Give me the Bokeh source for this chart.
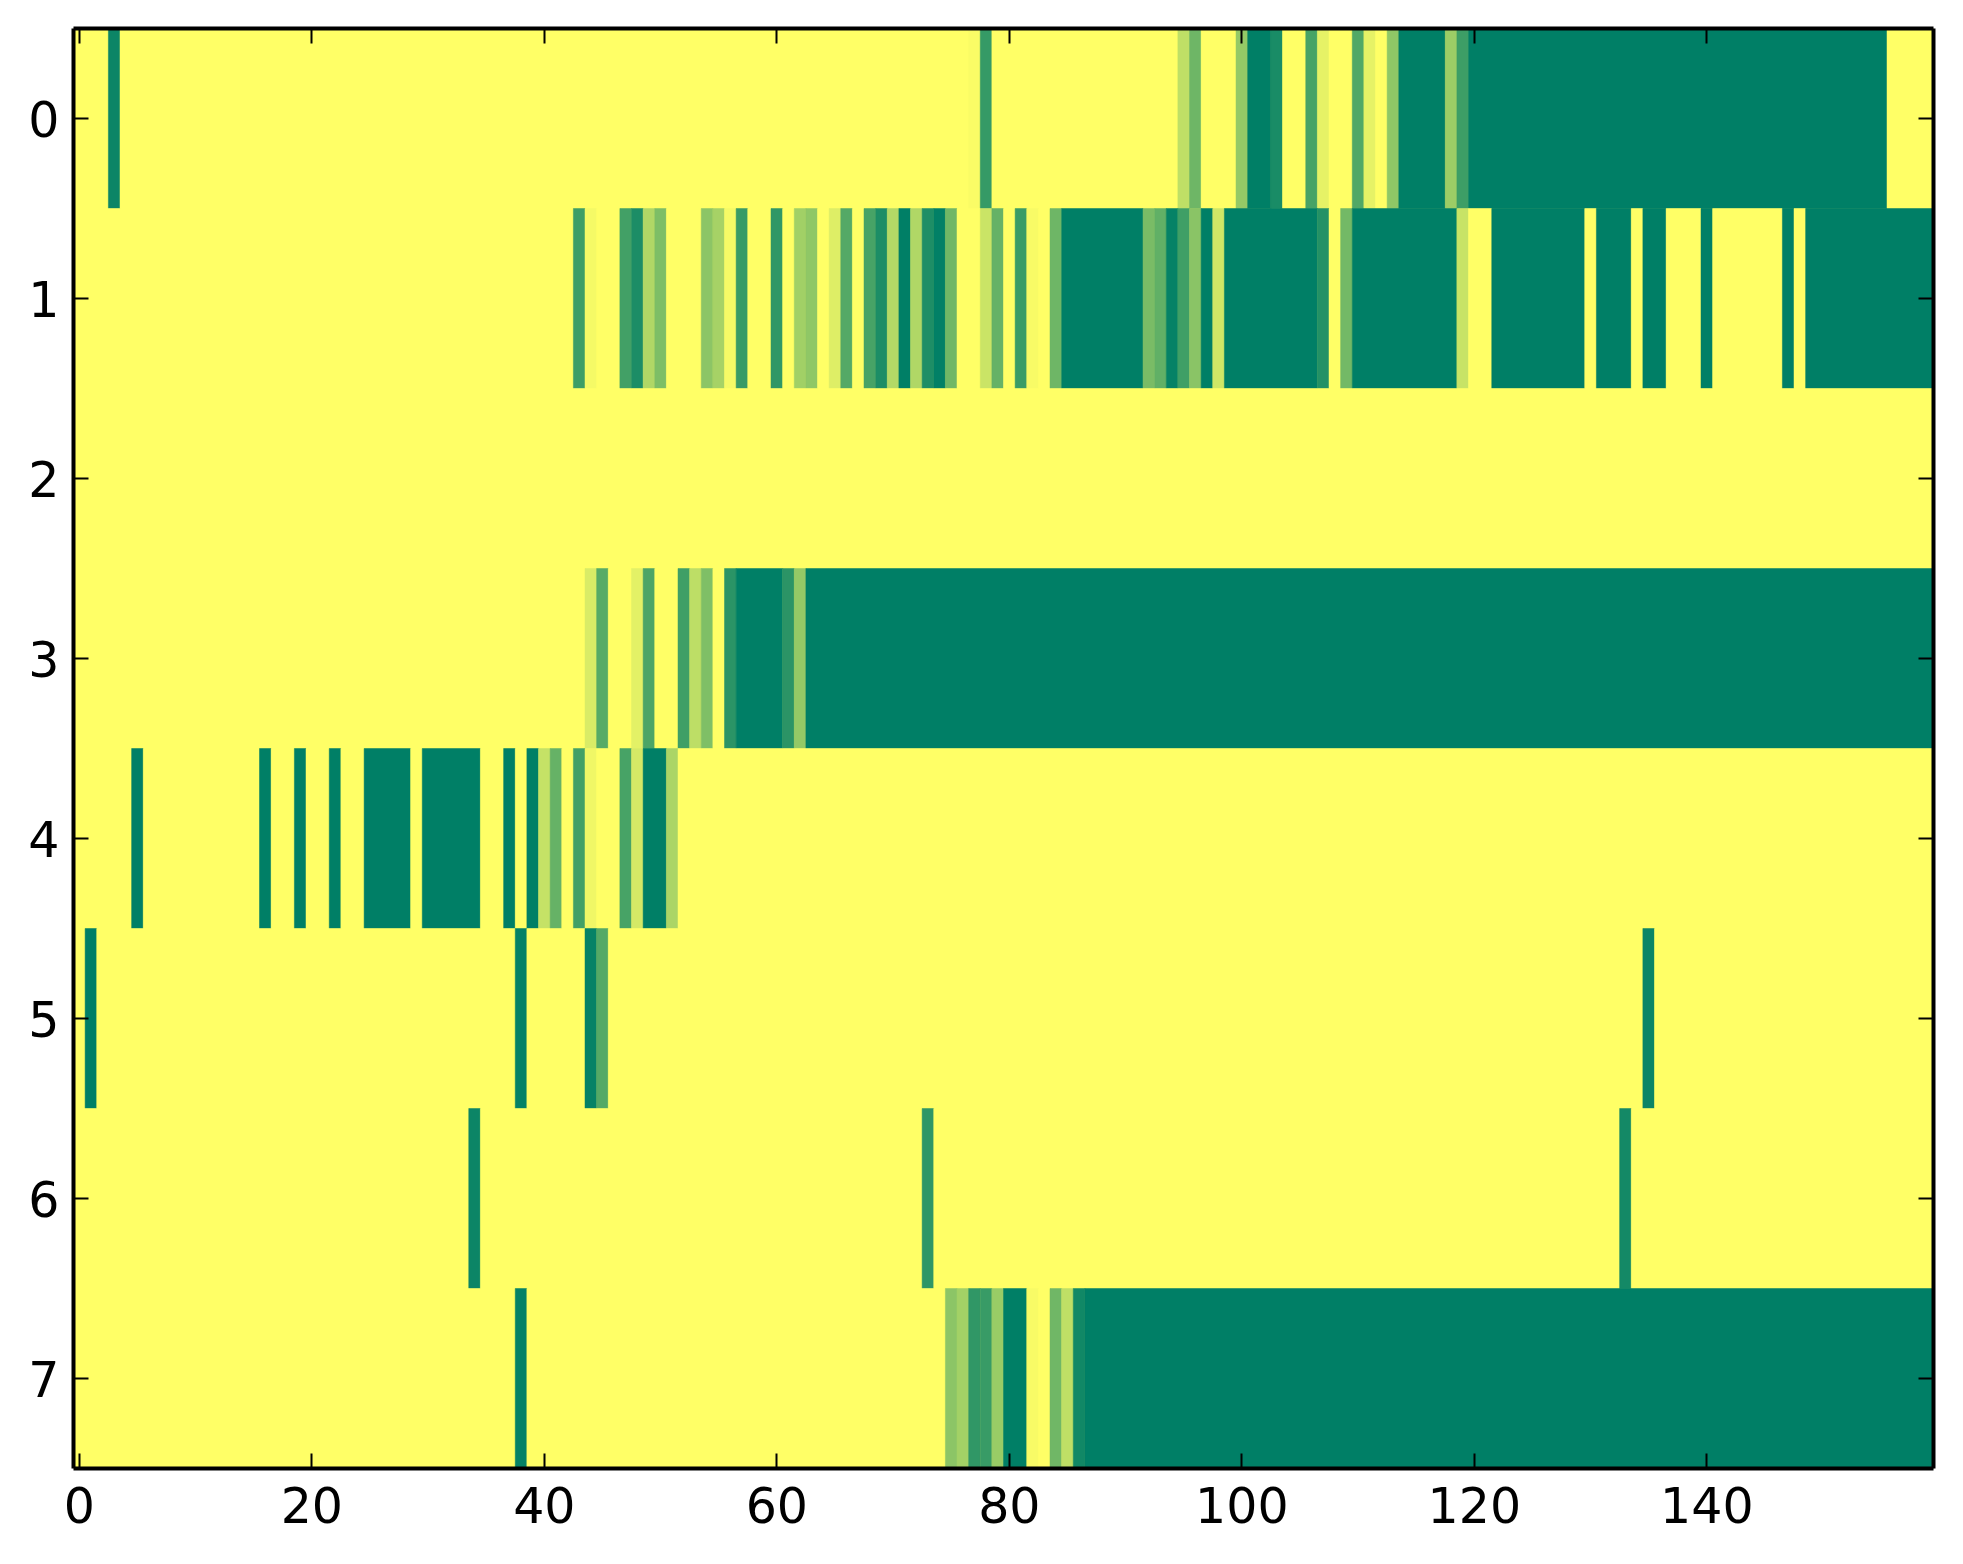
from bokeh.plotting import figure
from bokeh.models import ColumnDataSource, FixedTicker, LinearAxis, LinearColorMapper, Range1d
from bokeh.embed import file_html
from bokeh.resources import INLINE

row_labels = [0, 1, 2, 3, 4, 5, 6, 7]
x_ticks = [0, 20, 40, 60, 80, 100, 120, 140]

# Each row: cell intensity levels and how many consecutive cells hold that level
row0_levels = [0, .95, 0, .02, .79, 0, .25, .57, 0, .42, 1, .9, 0, .72, .1, 0, .68, .1, 0, .44, 1, .39, .76, 1, 0]
row0_counts = [3, 1, 73, 1, 1, 16, 1, 1, 3, 1, 2, 1, 2, 1, 1, 2, 1, 1, 1, 1, 4, 1, 1, 36, 4]

row1_levels = [0, .76, .04, 0, .74, .89, .31, .51, 0, .45, .35, .04, .78, 0, .81, 0, .37, .44, 0, .13, .67, 0, .72, .89, .3, 1, .31, .88, .99, .56, 0, .21, .6, 0, .77, .03, 0, .57, 1, .52, .62, .98, .75, .46, 1, .19, 1, .86, 0, .55, 1, .22, 0, 1, 0, 1, 0, 1, 0, 1, 0, 1, 0, 1]
row1_counts = [43, 1, 1, 2, 1, 1, 1, 1, 3, 1, 1, 1, 1, 2, 1, 1, 1, 1, 1, 1, 1, 1, 1, 1, 1, 1, 1, 1, 1, 1, 2, 1, 1, 1, 1, 1, 1, 1, 7, 1, 1, 1, 1, 1, 1, 1, 8, 1, 1, 1, 9, 1, 2, 8, 1, 3, 1, 2, 3, 1, 6, 1, 1, 11]

row2_levels = [0]
row2_counts = [160]

row3_levels = [0, .15, .66, 0, .11, .7, 0, .75, .26, .5, 0, .83, 1, .83, .42, 1]
row3_counts = [44, 1, 1, 2, 1, 1, 2, 1, 1, 1, 1, 1, 4, 1, 1, 97]

row4_levels = [0, 1, 0, 1, 0, 1, 0, 1, 0, 1, 0, 1, 0, 1, 0, 1, .23, .6, 0, .74, .06, 0, .72, .17, 1, .33, 0]
row4_counts = [5, 1, 10, 1, 2, 1, 2, 1, 2, 4, 1, 5, 2, 1, 1, 1, 1, 1, 1, 1, 1, 2, 1, 1, 2, 1, 108]

row5_levels = [0, 1, 0, .98, 0, .98, .67, 0, .95, 0]
row5_counts = [1, 1, 36, 1, 5, 1, 1, 89, 1, 24]

row6_levels = [0, .95, 0, .82, 0, .92, 0]
row6_counts = [34, 1, 38, 1, 59, 1, 26]

row7_levels = [0, .98, 0, .45, .36, .81, .78, .4, 1, .03, 0, .56, .25, .93, 1]
row7_counts = [38, 1, 36, 1, 1, 1, 1, 1, 2, 1, 1, 1, 1, 1, 73]

all_levels = [row0_levels, row1_levels, row2_levels, row3_levels, row4_levels, row5_levels, row6_levels, row7_levels]
all_counts = [row0_counts, row1_counts, row2_counts, row3_counts, row4_counts, row5_counts, row6_counts, row7_counts]

left, right, top, bottom, level = [], [], [], [], []
for r, (lv, ct) in enumerate(zip(all_levels, all_counts)):
    assert sum(ct) == 160 and len(lv) == len(ct), r
    start = -0.5
    for v, n in zip(lv, ct):
        left.append(start)
        right.append(start + n)
        top.append(r - 0.5)
        bottom.append(r + 0.5)
        level.append(v)
        start += n

# reversed "summer" colormap: yellow to green
palette = []
for i in range(256):
    t = i / 255
    palette.append("#%02x%02x%02x" % (round(255 * (1 - t)), int(255 * (1 - t / 2)), 102))
mapper = LinearColorMapper(palette=palette, low=0, high=1)

source = ColumnDataSource(dict(left=left, right=right, top=top, bottom=bottom, level=level))

p = figure(width=1947, height=1548, output_backend="svg", toolbar_location=None,
           x_range=Range1d(-0.5, 159.5), y_range=Range1d(7.5, -0.5),
           min_border_left=73, min_border_right=14, min_border_top=28, min_border_bottom=80,
           x_axis_location=None, y_axis_location=None)
p.grid.visible = False
p.outline_line_color = None
p.background_fill_color = "#ffff66"

p.quad(left="left", right="right", top="top", bottom="bottom", source=source,
       fill_color={"field": "level", "transform": mapper},
       line_color={"field": "level", "transform": mapper}, line_width=0.5)


def make_axis(ticks, standoff, labelled=True):
    ax = LinearAxis(ticker=FixedTicker(ticks=ticks))
    ax.axis_line_color = "black"
    ax.axis_line_width = 4
    ax.major_tick_in = 15
    ax.major_tick_out = 0
    ax.major_tick_line_color = "black"
    ax.major_tick_line_width = 2
    ax.minor_tick_line_color = None
    ax.major_label_text_color = "black"
    ax.major_label_text_font = "DejaVu Sans"
    ax.major_label_text_font_size = "49px"
    ax.major_label_standoff = standoff
    if not labelled:
        ax.major_label_overrides = {t: "" for t in ticks}
    return ax


p.add_layout(make_axis(x_ticks, 18), "below")
p.add_layout(make_axis(x_ticks, 0, labelled=False), "above")
p.add_layout(make_axis(row_labels, 14), "left")
p.add_layout(make_axis(row_labels, 0, labelled=False), "right")

open("out.html", "w").write(file_html(p, INLINE))
